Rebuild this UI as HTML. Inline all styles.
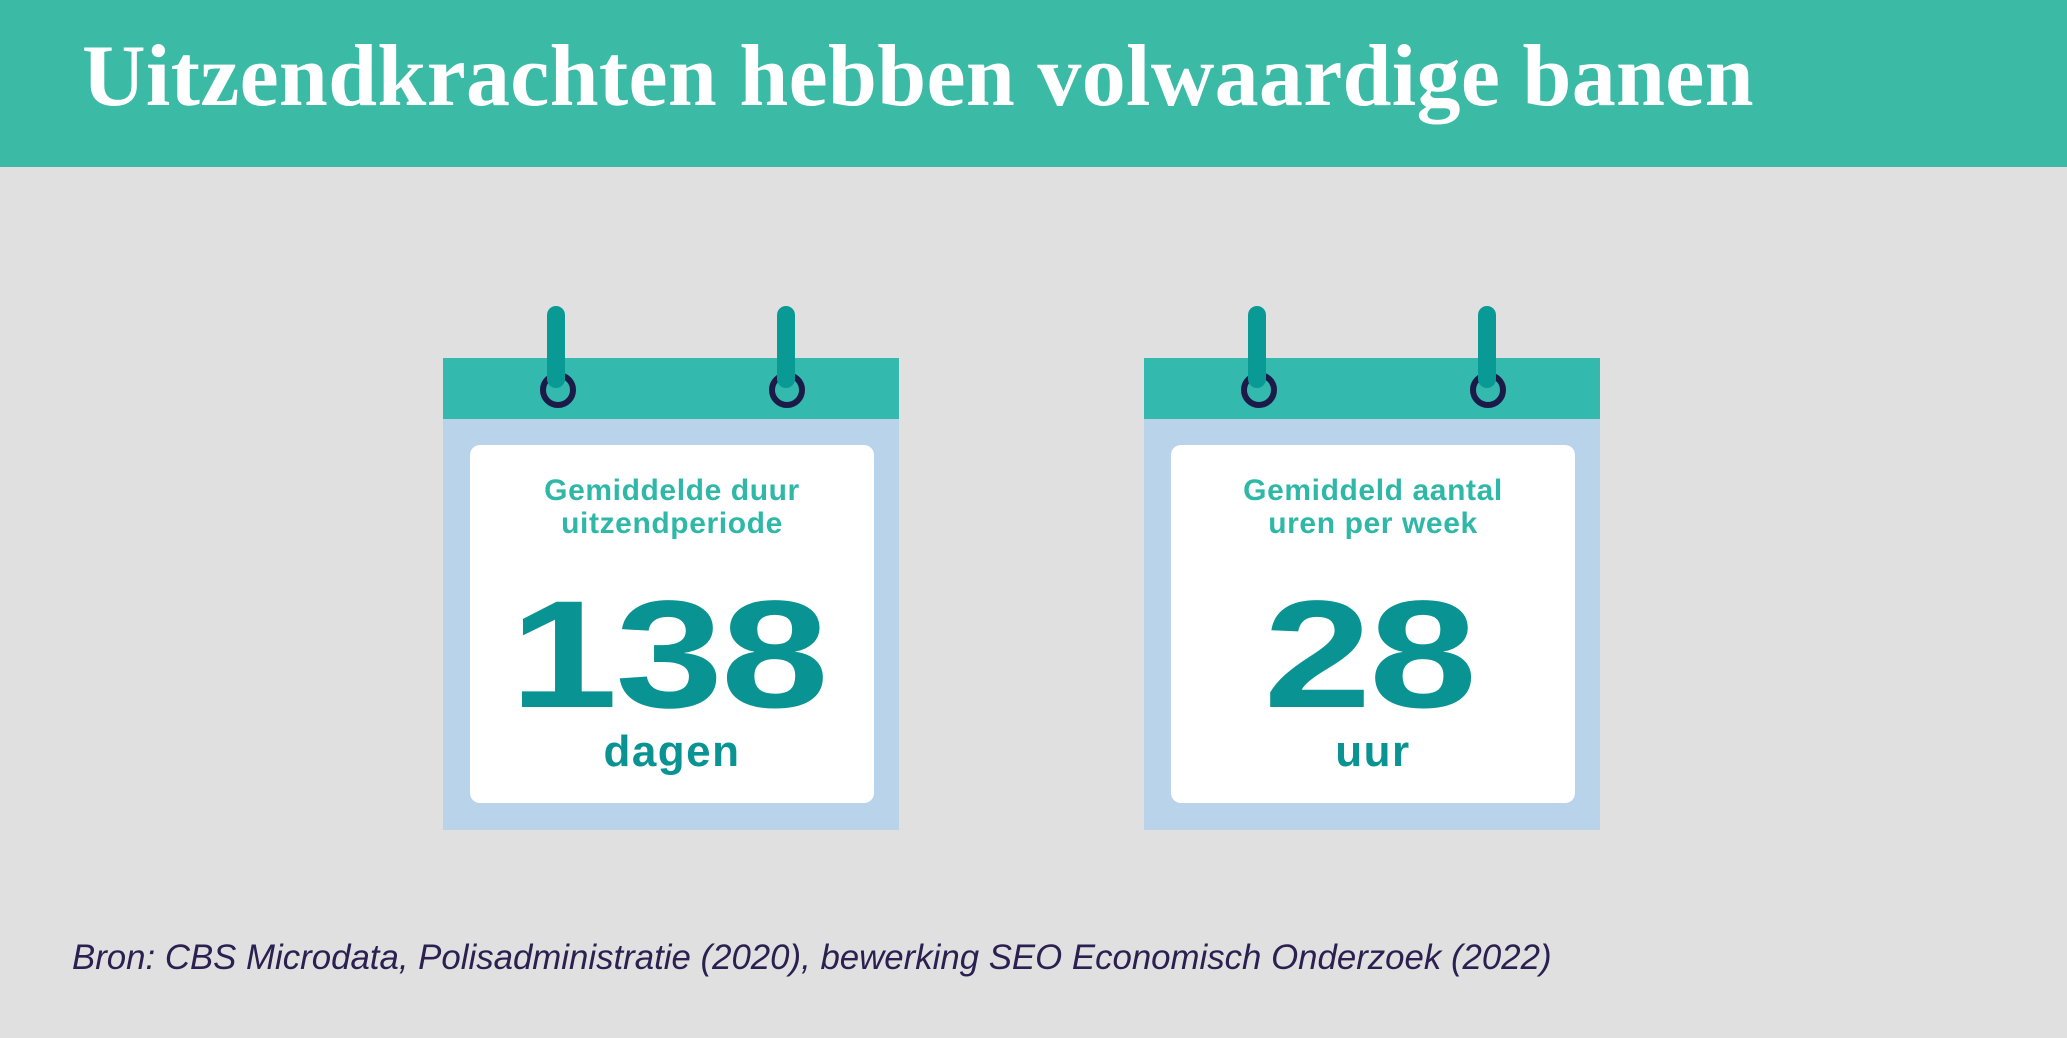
<!DOCTYPE html>
<html><head><meta charset="utf-8"><style>
body{margin:0;width:2067px;height:1038px;background:#e0e0e0;position:relative;overflow:hidden;font-family:"Liberation Sans",sans-serif}
.abs{position:absolute}
#hdr{left:0;top:0;width:2067px;height:167px;background:#3bbba5}
#title{left:82px;top:26px;font-family:"Liberation Serif",serif;font-weight:bold;font-size:88px;color:#fff;white-space:nowrap;letter-spacing:0.3px}
.cal{width:456px;height:472px;top:358px;background:#b9d3eb}
.calh{left:0;top:0;width:456px;height:61px;background:#33b9ad}
.card{left:27px;top:87px;width:404px;height:358px;background:#fff;border-radius:10px}
.pin{width:18px;height:82px;background:#0a9a96;border-radius:9px;top:-52px}
.ring{width:24px;height:24px;border:6px solid #1b1a48;border-radius:50%;top:14px}
.lbl{left:0;width:404px;text-align:center;color:#2fb7a8;font-weight:bold;font-size:30px;line-height:33px;top:29px;letter-spacing:0.6px}
.num{left:-4px;width:404px;text-align:center;color:#0a9393;font-weight:900;font-size:153px;line-height:154px;top:133px;transform:scaleX(1.27);letter-spacing:-2px}
.unit{left:0;width:404px;text-align:center;color:#0a9393;font-weight:bold;font-size:44px;top:282px;letter-spacing:1.5px}
#src{left:72px;top:938px;font-style:italic;font-size:34.8px;color:#2a2150;white-space:nowrap}
</style></head><body>
<div id="hdr" class="abs"></div>
<div id="title" class="abs">Uitzendkrachten hebben volwaardige banen</div>

<div class="abs cal" style="left:443px">
 <div class="abs calh"></div>
 <div class="abs ring" style="left:97px"></div>
 <div class="abs ring" style="left:326px"></div>
 <div class="abs pin" style="left:104px"></div>
 <div class="abs pin" style="left:334px"></div>
 <div class="abs card">
  <div class="abs lbl">Gemiddelde duur<br>uitzendperiode</div>
  <div class="abs num">138</div>
  <div class="abs unit">dagen</div>
 </div>
</div>

<div class="abs cal" style="left:1144px">
 <div class="abs calh"></div>
 <div class="abs ring" style="left:97px"></div>
 <div class="abs ring" style="left:326px"></div>
 <div class="abs pin" style="left:104px"></div>
 <div class="abs pin" style="left:334px"></div>
 <div class="abs card">
  <div class="abs lbl">Gemiddeld aantal<br>uren per week</div>
  <div class="abs num">28</div>
  <div class="abs unit">uur</div>
 </div>
</div>

<div id="src" class="abs">Bron: CBS Microdata, Polisadministratie (2020), bewerking SEO Economisch Onderzoek (2022)</div>
</body></html>
